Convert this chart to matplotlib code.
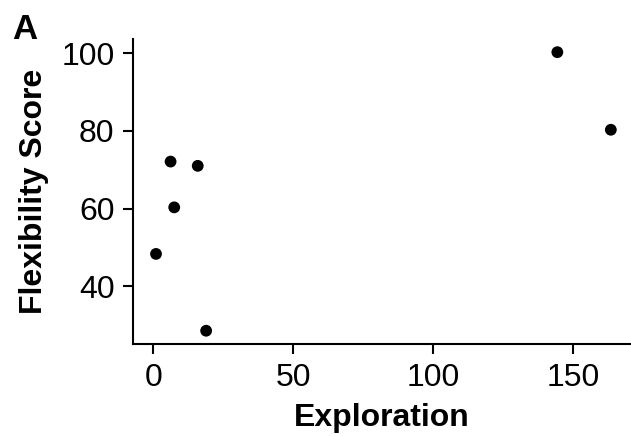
import numpy as np
import matplotlib
matplotlib.use("Agg")
import matplotlib.pyplot as plt

plt.rcParams['font.family'] = ['Liberation Sans', 'DejaVu Sans']

exploration = [1.0, 6.2, 7.5, 15.9, 18.9, 144.3, 163.4]
flexibility = [48.3, 72.1, 60.3, 71.0, 28.5, 100.3, 80.3]
xticks = [0, 50, 100, 150]
yticks = [40, 60, 80, 100]

fig = plt.figure(figsize=(6.31, 4.36), dpi=100)
ax = fig.add_axes([0.2113, 0.2103, 0.7887, 0.7003])

ax.scatter(exploration, flexibility, s=72, color='black', edgecolors='none', zorder=3)

ax.set_xlim(-7.1, 170.6)
ax.set_ylim(25.0, 103.7)
ax.set_xticks(xticks)
ax.set_yticks(yticks)

for s in ['top', 'right']:
    ax.spines[s].set_visible(False)
for s in ['left', 'bottom']:
    ax.spines[s].set_linewidth(1.5)

ax.tick_params(axis='both', labelsize=23, width=1.5, length=7.5, pad=6, colors='black')
ax.set_xlabel('Exploration', fontsize=23, fontweight='bold', labelpad=7)
ax.set_ylabel('Flexibility Score', fontsize=23, fontweight='bold', labelpad=9)

fig.text(0.02, 0.91, 'A', fontsize=25, fontweight='bold', va='baseline', ha='left')

fig.savefig('out.png', dpi=100)
